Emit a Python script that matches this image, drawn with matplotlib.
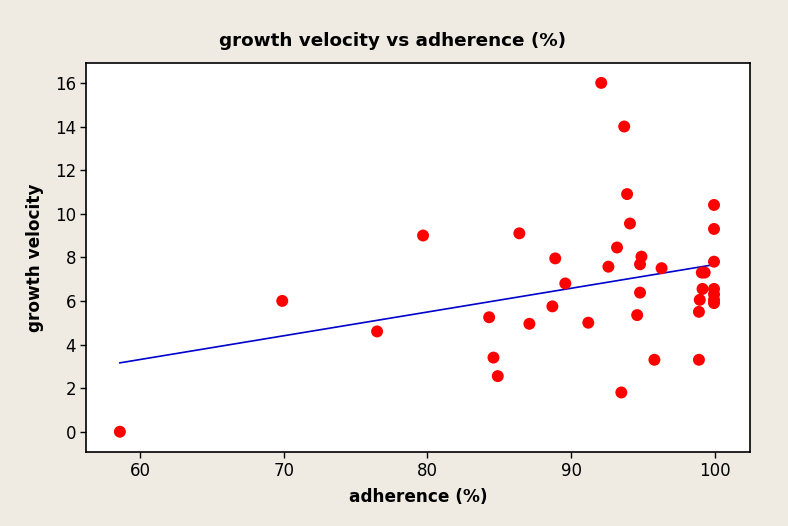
import numpy as np
import matplotlib
matplotlib.use("Agg")
import matplotlib.pyplot as plt

# adherence (%) と growth velocity の読み取り値
adherence = [58.6, 69.9, 76.5, 79.7, 84.3, 84.6, 84.9, 86.4, 87.1, 88.9,
             88.7, 89.6, 91.2, 92.1, 92.6, 93.2, 93.7, 93.5, 93.9, 94.1,
             94.6, 94.8, 94.9, 94.8, 95.8, 96.3, 98.9, 98.9, 98.96, 99.1,
             99.3, 99.15, 99.95, 99.95, 99.95, 99.95, 99.95, 99.95, 99.95]
velocity = [0.0, 6.0, 4.6, 9.0, 5.25, 3.4, 2.55, 9.1, 4.95, 7.95,
            5.75, 6.8, 5.0, 16.0, 7.57, 8.45, 14.0, 1.8, 10.9, 9.55,
            5.35, 6.38, 8.03, 7.68, 3.3, 7.5, 5.5, 3.3, 6.05, 7.3,
            7.3, 6.55, 10.4, 9.3, 7.8, 6.55, 6.3, 6.05, 5.9]

x_ticks = [60, 70, 80, 90, 100]
y_ticks = [0, 2, 4, 6, 8, 10, 12, 14, 16]

bg = '#efebe3'
plt.rcParams['font.family'] = ['DejaVu Sans']

fig = plt.figure(figsize=(7.88, 5.26), dpi=100, facecolor=bg)
ax = fig.add_axes([0.1091, 0.1407, 0.8426, 0.739])
ax.set_facecolor('white')

x = np.array(adherence)
y = np.array(velocity)
slope, intercept = np.polyfit(x, y, 1)  # 回帰直線
xs = np.array([x.min(), x.max()])
ax.plot(xs, slope * xs + intercept, color='#0000cc', lw=1.2, zorder=2)

ax.scatter(x, y, s=74, color='#ff0000', edgecolors='none', zorder=3)

ax.set_xlim(56.24, 102.45)
ax.set_ylim(-0.93, 16.9)
ax.set_xticks(x_ticks)
ax.set_yticks(y_ticks)
ax.tick_params(direction='out', length=4, width=1, labelsize=12, pad=3)
for sp in ax.spines.values():
    sp.set_linewidth(1.2)

ax.set_xlabel('adherence (%)', fontsize=12.2, fontweight='bold', labelpad=6)
ax.set_ylabel('growth velocity', fontsize=12.2, fontweight='bold', labelpad=8)
fig.text(0.4987, 0.922, 'growth velocity vs adherence (%)', ha='center', va='center',
         fontsize=13.2, fontweight='bold')

plt.savefig('out.png', dpi=100, facecolor=bg)
